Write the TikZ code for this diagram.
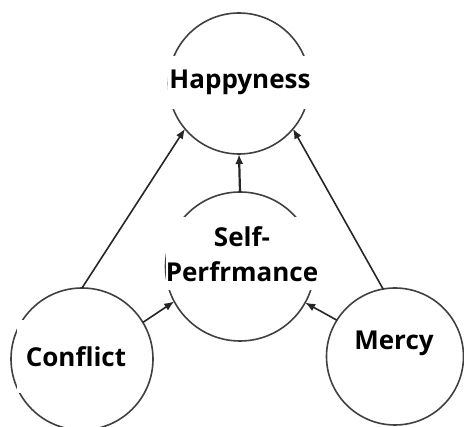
\documentclass[tikz,border=0pt]{standalone}
\usepackage{fontspec}
\setmainfont{Open Sans}
\usetikzlibrary{arrows.meta}
\begin{document}
\begin{tikzpicture}[x=1pt,y=-1pt,
    ball/.style={circle,draw=black!75,line width=1.6pt,outer sep=0pt,inner sep=0pt},
    word/.style={fill=white,inner sep=0pt,align=center,font=\bfseries\fontsize{26}{35}\selectfont},
    link/.style={-{Latex[length=10pt,width=8pt]},line width=1.6pt,black!85}]
    \useasboundingbox (0,0) rectangle (464,427);
    \node (1) at (239,83.5) [ball,minimum size=141]{};
    \node (2) at (240,266.5) [ball,minimum size=149]{};
    \node (3) at (82,359) [ball,minimum size=142]{};
    \node (4) at (395,356.5) [ball,minimum size=137]{};

    \node (t1) at (240,82.5) [word,minimum width=144,minimum height=53]{Happyness};
    \node (t2) at (242,254) [word,minimum width=144,minimum height=73]{Self-\\Perfrmance};
    \node (t3) at (76,357) [word,minimum width=118,minimum height=73]{Conflict};
    \node (t4) at (394,343) [word]{Mercy};

    \draw[link] (3.north) -- (1.220);
    \draw[link] (4.100) -- (1.320);
    \draw[link,line width=2.2pt] (2.north) -- (1.south);

    \draw[link] (3.31) -- (2.208);
    \draw[link] (4.148) -- (2.331);

  \end{tikzpicture}
\end{document}
